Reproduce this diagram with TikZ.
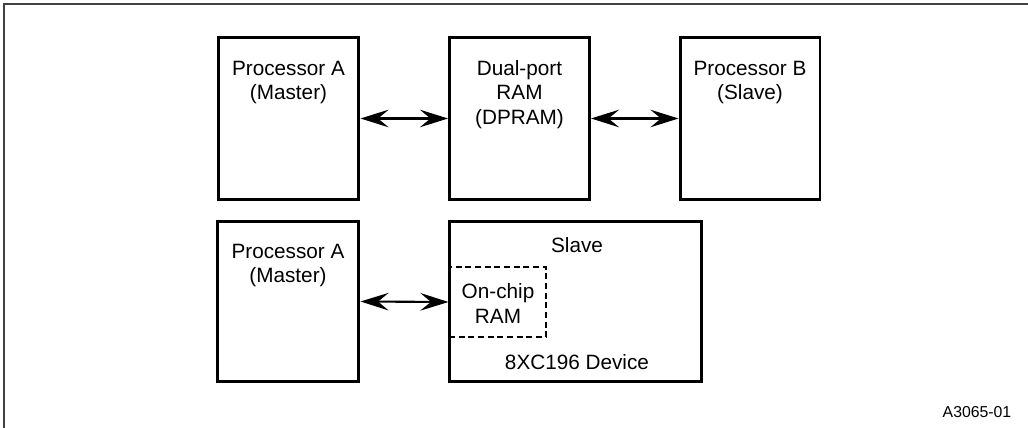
\documentclass[tikz,border=0pt]{standalone}
\usepackage{fontspec}
\setmainfont{Liberation Sans}
\usetikzlibrary{arrows.meta}

\begin{document}
\begin{tikzpicture}[x=0.02cm, y=-0.02cm,
    every node/.style={font=\fontsize{11.8}{14}\selectfont, align=center},
    blk/.style={draw, line width=1.7pt, inner sep=0pt},
    onchip/.style={draw, dash pattern=on 3.5pt off 2pt, line width=0.6pt, inner sep=0pt},
    link/.style={line width=1.2pt, {Stealth[length=16pt,width=10pt,inset=6pt]}-{Stealth[length=16pt,width=10pt,inset=6pt]}}]
  \useasboundingbox (0,0) rectangle (1028,428);
  % Frame
  \draw[line width=1.1pt, black!75] (4,432) |- (1032,4);

  % Top row
  \node[blk, minimum width=2.82cm, minimum height=3.26cm] (pa) at (288.5,118.5) {};   % Processor A
  \node[blk, minimum width=2.8cm, minimum height=3.26cm] (dp) at (519.5,118.5) {};    % DPRAM
  \node[blk, minimum width=2.8cm, minimum height=3.26cm] (pb) at (750,118.5) {};      % Processor B
  \node (tpa) at (288.5,82.5) {Processor A\\(Master)};
  \node (tdp) at (519.5,94.5) {Dual-port\\RAM\\(DPRAM)};
  \node (tpb) at (750,82.5) {Processor B\\(Slave)};

  % Bottom row
  \node[blk, minimum width=2.84cm, minimum height=3.22cm] (pa2) at (288,301.5) {};    % Processor A
  \node[blk, minimum width=5.06cm, minimum height=3.22cm] (slv) at (575.5,301.5) {};  % 8XC196 device
  \node[onchip, minimum width=1.94cm, minimum height=1.4cm] (ram) at (497.5,302) {};  % on-chip RAM
  \node (tpa2) at (288,265.5) {Processor A\\(Master)};
  \node (tslv) at (577,245) {Slave};
  \node (tram) at (498,303.5) {On-chip\\RAM};
  \node (tdev) at (577,362) {8XC196 Device};

  % Arrows
  \draw[link] (pa.east) -- (dp.west);
  \draw[link] (dp.east) -- (pb.west);
  \draw[link] (pa2.east) -- (ram.west);

  \node[font=\fontsize{9}{11}\selectfont] (fig) at (977,412) {A3065-01};
\end{tikzpicture}
\end{document}
